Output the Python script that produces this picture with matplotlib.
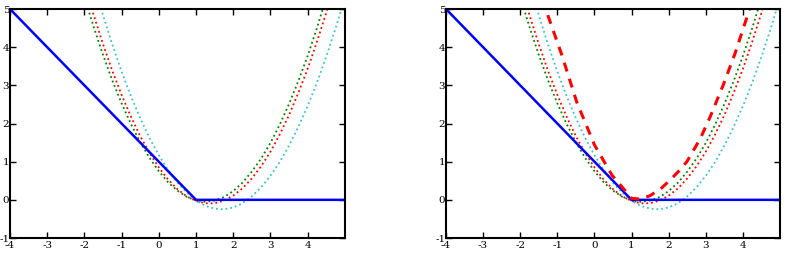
import matplotlib
matplotlib.use('Agg')
import matplotlib.pyplot as plt

plt.rcParams['font.family'] = ['DejaVu Serif']
plt.rcParams['axes.unicode_minus'] = False

# hinge loss
hinge_x = [-4, 1, 5]
hinge_y = [5, 0, 0]

# dotted quadratic approximations
quad_x = [-2.25, -2.0, -1.75, -1.5, -1.25, -1.0, -0.75, -0.5, -0.25, 0.0,
          0.25, 0.5, 0.75, 1.0, 1.25, 1.5, 1.75, 2.0, 2.25, 2.5,
          2.75, 3.0, 3.25, 3.5, 3.75, 4.0, 4.25, 4.5, 4.75, 5.0]
green_y = [6.18, 5.32, 4.53, 3.80, 3.13, 2.53, 1.99, 1.51, 1.10, 0.75,
           0.46, 0.24, 0.08, -0.02, -0.05, -0.02, 0.07, 0.23, 0.45, 0.74,
           1.08, 1.49, 1.97, 2.51, 3.11, 3.77, 4.50, 5.29, 6.14, 7.05]
red_y = [6.55, 5.66, 4.84, 4.08, 3.38, 2.75, 2.18, 1.67, 1.23, 0.85,
         0.53, 0.28, 0.09, -0.03, -0.09, -0.09, -0.02, 0.11, 0.30, 0.56,
         0.88, 1.26, 1.71, 2.22, 2.80, 3.43, 4.14, 4.90, 5.73, 6.62]
cyan_y = [7.50, 6.56, 5.67, 4.84, 4.07, 3.36, 2.72, 2.14, 1.62, 1.17,
          0.78, 0.45, 0.19, -0.02, -0.16, -0.23, -0.25, -0.20, -0.09, 0.09,
          0.33, 0.63, 0.99, 1.42, 1.91, 2.46, 3.07, 3.75, 4.49, 5.29]

# dashed curve (right panel only)
dash_x = [-1.4, -1.29, -0.88, -0.48, 0.0, 0.47, 0.75, 1.0, 1.25, 1.5,
          1.81, 2.04, 2.26, 2.49, 2.85, 3.12, 3.47, 3.79, 4.1, 4.3]
dash_y = [5.3, 4.93, 3.80, 2.57, 1.44, 0.65, 0.33, 0.04, 0.02, 0.11,
          0.31, 0.52, 0.74, 1.0, 1.6, 2.18, 3.01, 3.84, 4.76, 5.35]

xticks = [-4, -3, -2, -1, 0, 1, 2, 3, 4]
yticks = [-1, 0, 1, 2, 3, 4, 5]

fig = plt.figure(figsize=(7.86, 2.62), dpi=100)
ax_1 = fig.add_axes([0.0127, 0.0916, 0.426, 0.874])
ax_2 = fig.add_axes([0.5674, 0.0916, 0.425, 0.874])

for ax in (ax_1, ax_2):
    ax.plot(quad_x, green_y, color='g', linestyle=':', linewidth=1.3)
    ax.plot(quad_x, red_y, color='r', linestyle=':', linewidth=1.3)
    ax.plot(quad_x, cyan_y, color='#40c0c8', linestyle=':', linewidth=1.3)
    ax.plot(hinge_x, hinge_y, color='b', linewidth=1.8)
    ax.set_xlim(-4, 5)
    ax.set_ylim(-1, 5)
    ax.set_xticks(xticks)
    ax.set_yticks(yticks)
    ax.tick_params(direction='in', top=True, right=True, length=4,
                   width=1, labelsize=7.5)
    ax.tick_params(axis='y', pad=0.5)
    ax.tick_params(axis='x', pad=2)
    for s in ax.spines.values():
        s.set_linewidth(1.5)

ax_2.plot(dash_x, dash_y, color='r', linestyle=(0, (3, 2.5)), linewidth=2.2)

fig.savefig('out.png', dpi=100)
